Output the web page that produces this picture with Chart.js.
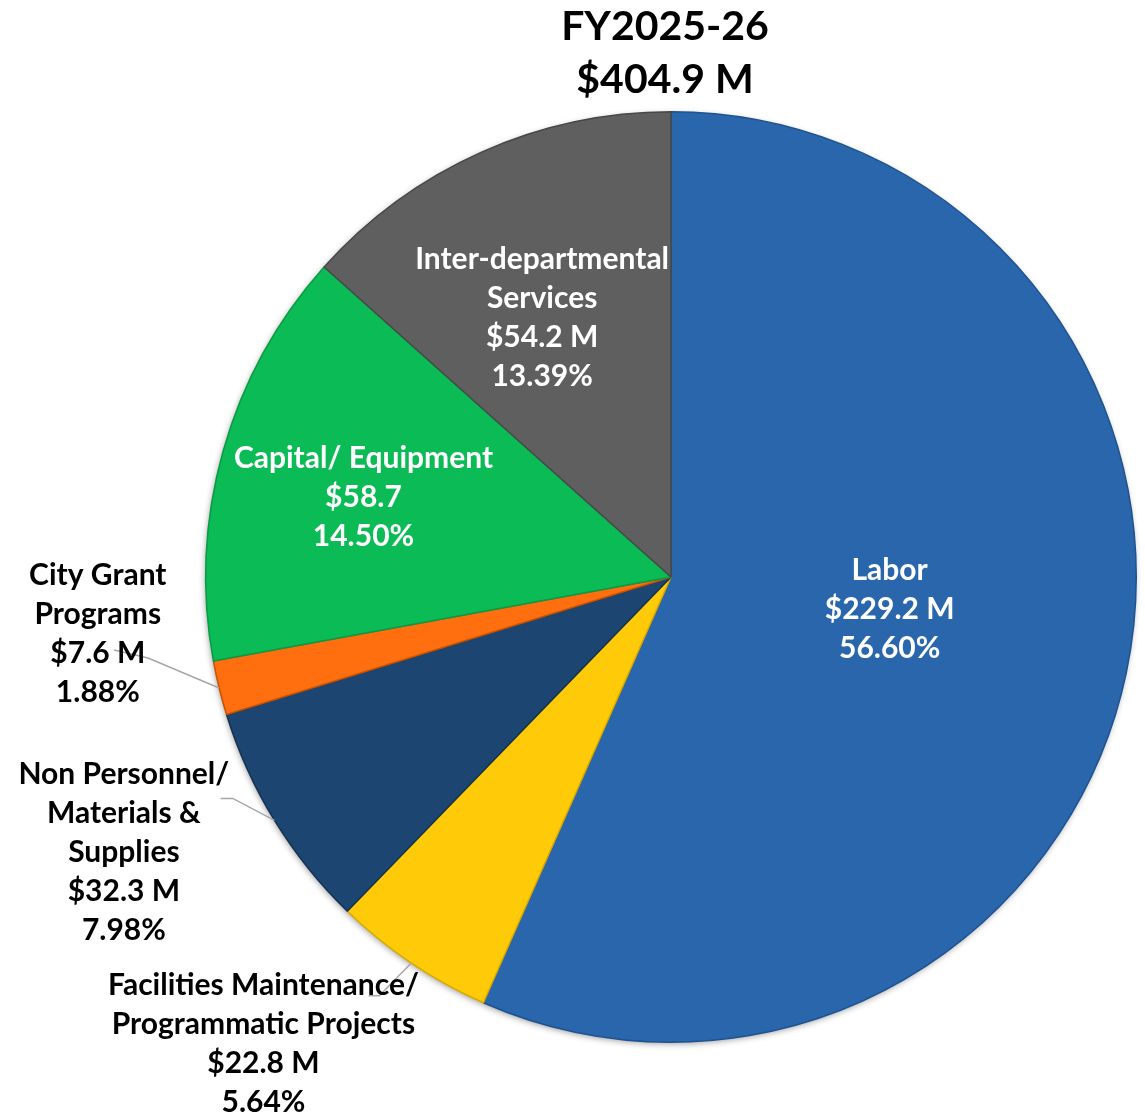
<!DOCTYPE html>
<html>
<head>
<meta charset="utf-8">
<script src="https://cdn.jsdelivr.net/npm/chart.js@4"></script>
<style>
  html, body { margin: 0; padding: 0; background: #ffffff; }
  #wrap { width: 1145px; height: 1118px; position: relative; }
</style>
</head>
<body>
<div id="wrap"><canvas id="c" width="1145" height="1118"></canvas></div>
<script>
// ---- data ----
const titleLines = ["FY2025-26", "$404.9 M"];
const categories = ["Labor", "Facilities Maintenance/ Programmatic Projects", "Non Personnel/ Materials & Supplies", "City Grant Programs", "Capital/ Equipment", "Inter-departmental Services"];
const percents = [56.60, 5.64, 7.98, 1.88, 14.50, 13.39];
const amounts = ["$229.2 M", "$22.8 M", "$32.3 M", "$7.6 M", "$58.7", "$54.2 M"];
const pctLabels = ["56.60%", "5.64%", "7.98%", "1.88%", "14.50%", "13.39%"];
const labelNameLines = [
  ["Labor"],
  ["Facilities Maintenance/", "Programmatic Projects"],
  ["Non Personnel/", "Materials &", "Supplies"],
  ["City Grant", "Programs"],
  ["Capital/ Equipment"],
  ["Inter-departmental", "Services"]
];

// ---- styles ----
const colors = ["#2966AC", "#FFCA08", "#1D4572", "#FF6F0F", "#0BBB55", "#5F5F5F"];
const borders = ["#1F5290", "#D9A800", "#14324F", "#C85200", "#089A44", "#474747"];
const FONT = "Lato, 'Open Sans', sans-serif";
// label block centre, in units of radius from pie centre
const labelPos = [
  {fx: 0.470, fy: 0.069, color: "#ffffff"},
  {fx: -0.876, fy: 1.003, color: "#000000", leader: [{fx: -0.650, fy: 0.900}, {fx: -0.627, fy: 0.900}]},
  {fx: -1.176, fy: 0.592, color: "#000000", leader: [{fx: -0.968, fy: 0.476}, {fx: -0.942, fy: 0.476}]},
  {fx: -1.232, fy: 0.122, color: "#000000", leader: [{fx: -1.197, fy: 0.157}, {fx: -1.124, fy: 0.174}]},
  {fx: -0.661, fy: -0.172, color: "#ffffff"},
  {fx: -0.277, fy: -0.557, color: "#ffffff"}
];

const shadowPlugin = {
  id: 'pieShadow',
  beforeDatasetsDraw(chart) {
    const arc0 = chart.getDatasetMeta(0).data[0];
    if (!arc0) return;
    const ctx = chart.ctx;
    ctx.save();
    ctx.beginPath();
    ctx.arc(arc0.x, arc0.y, arc0.outerRadius - 1, 0, Math.PI * 2);
    ctx.fillStyle = "#ffffff";
    ctx.shadowColor = "rgba(0,0,0,0.45)";
    ctx.shadowBlur = 7;
    ctx.shadowOffsetX = -1;
    ctx.shadowOffsetY = 2;
    ctx.fill();
    ctx.restore();
  }
};

const labelPlugin = {
  id: 'sliceLabels',
  afterDatasetsDraw(chart) {
    const ctx = chart.ctx;
    const meta = chart.getDatasetMeta(0);
    const arc0 = meta.data[0];
    const cx = arc0.x, cy = arc0.y, R = arc0.outerRadius;
    ctx.save();
    // leader lines
    meta.data.forEach((arc, i) => {
      const lp = labelPos[i];
      if (!lp.leader) return;
      const mid = (arc.startAngle + arc.endAngle) / 2;
      ctx.beginPath();
      ctx.strokeStyle = "#A6A6A6";
      ctx.lineWidth = 1.5;
      ctx.moveTo(cx + lp.leader[0].fx * R, cy + lp.leader[0].fy * R);
      ctx.lineTo(cx + lp.leader[1].fx * R, cy + lp.leader[1].fy * R);
      ctx.lineTo(cx + Math.cos(mid) * R, cy + Math.sin(mid) * R);
      ctx.stroke();
    });
    // texts
    ctx.font = "bold 30px " + FONT;
    ctx.textAlign = "center";
    ctx.textBaseline = "middle";
    const lh = 39;
    meta.data.forEach((arc, i) => {
      const lp = labelPos[i];
      const lines = labelNameLines[i].concat([amounts[i], pctLabels[i]]);
      const x = cx + lp.fx * R;
      const yc = cy + lp.fy * R;
      const y0 = yc - (lines.length - 1) * lh / 2;
      ctx.fillStyle = lp.color;
      lines.forEach((t, k) => ctx.fillText(t, x, y0 + k * lh));
    });
    // title
    ctx.fillStyle = "#000000";
    ctx.font = "bold 41px " + FONT;
    ctx.fillText(titleLines[0], cx - 6, 27);
    ctx.fillText(titleLines[1], cx - 6, 80);
    ctx.restore();
  }
};

new Chart(document.getElementById('c'), {
  type: 'pie',
  data: {
    labels: categories,
    datasets: [{
      data: percents,
      backgroundColor: colors,
      borderColor: borders,
      borderWidth: 1.5
    }]
  },
  options: {
    responsive: false,
    animation: false,
    rotation: 0,
    layout: { padding: { left: 205, right: 8, top: 111, bottom: 75 } },
    plugins: {
      legend: { display: false },
      tooltip: { enabled: false },
      title: { display: false }
    }
  },
  plugins: [shadowPlugin, labelPlugin]
});
</script>
</body>
</html>
